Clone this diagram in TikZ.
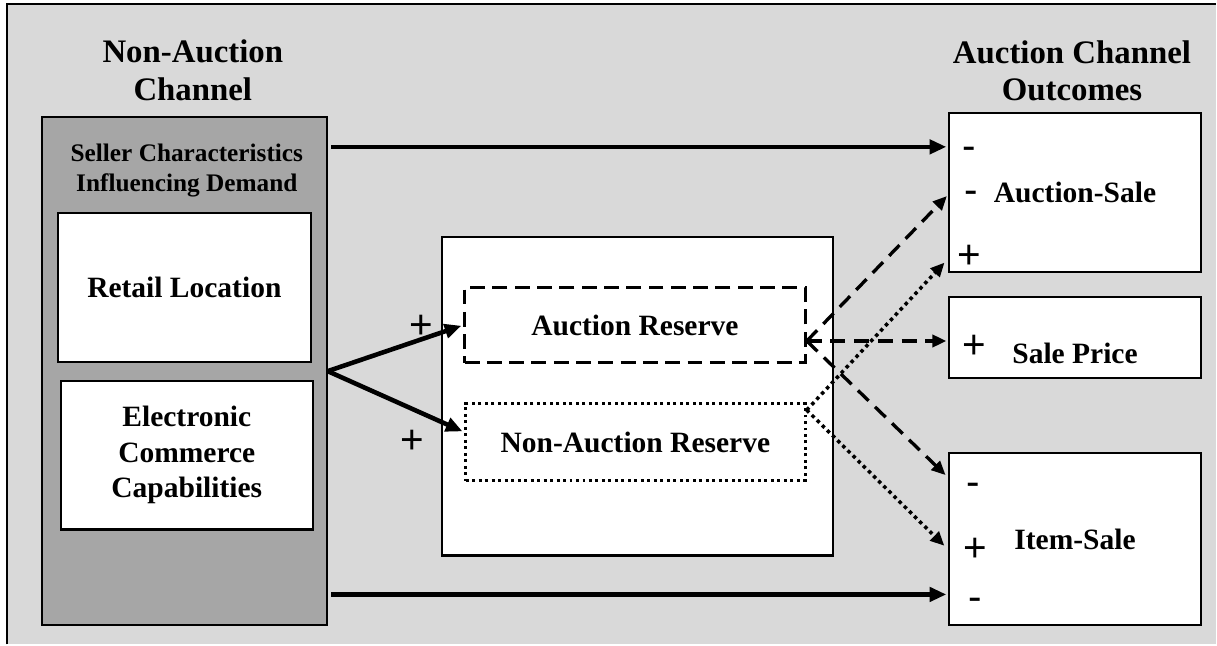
\documentclass[tikz,border=0pt]{standalone}
\usepackage{fontspec}
\setmainfont{Liberation Serif}
\newfontfamily\signfont{Liberation Sans}
\usepackage{xcolor}
\usepackage{tikz}
\usetikzlibrary{positioning,calc,arrows.meta}
\definecolor{backgray}{HTML}{D9D9D9}
\definecolor{panelgray}{HTML}{A6A6A6}

\begin{document}
\begin{tikzpicture}[x=0.02cm, y=-0.02cm, whitebox/.style={draw=black, fill=white, line width=1.2pt, inner sep=0pt, align=center, font=\fontsize{16.8}{20.4}\selectfont\bfseries}, heading/.style={inner sep=0pt, align=center, font=\fontsize{18.7}{21.5}\selectfont\bfseries}, sign/.style={inner sep=0pt, font=\fontsize{23}{25}\signfont}, dashbox/.style={line width=1.8pt, dash pattern=on 8.5pt off 4.2pt}, dotbox/.style={line width=1.7pt, dash pattern=on 1.7pt off 2pt}, solidarrow/.style={-{Triangle[length=9.5pt,width=8pt]}, line width=2.6pt}, dasharrow/.style={-{Triangle[length=8pt,width=7pt]}, line width=1.9pt, dash pattern=on 8.5pt off 5pt}, dotarrow/.style={-{Triangle[length=8pt,width=7pt]}, line width=2pt, dash pattern=on 2pt off 2.1pt}]
\fill[white] (0,0) rectangle (1217,645);
\fill[backgray] (7,4) rectangle (1217,645);
\draw[line width=1.3pt] (7,645) -- (7,4) -- (1217,4);
\useasboundingbox (0,0) rectangle (1217,645);
% channel headings
\node[heading] (lefttitle) at (193,70.5) {Non-Auction\\Channel};
\node[heading] (righttitle) at (1073,71) {Auction Channel\\Outcomes};
% non-auction channel
\node[draw=black, fill=panelgray, line width=1.2pt, inner sep=0pt, minimum width=5.7cm, minimum height=10.18cm] (chan) at (184.5,371.5) {};
\node[inner sep=0pt, align=center, font=\fontsize{14.4}{17.2}\selectfont\bfseries] (sellers) at (187,171) {Seller Characteristics\\Influencing Demand};
\node[whitebox, minimum width=5.06cm, minimum height=2.98cm] (retail) at (184.5,288) {Retail Location};
\node[whitebox, minimum width=5.04cm, minimum height=2.98cm] (ecom) at (187,455.5) {Electronic\\Commerce\\Capabilities};
% reserves
\node[whitebox, minimum width=7.84cm, minimum height=6.38cm] (resv) at (638,396.5) {};
\node[whitebox, dashbox, minimum width=6.82cm, minimum height=1.5cm] (ares) at (635.5,325.5) {Auction Reserve};
\node[whitebox, dotbox, minimum width=6.8cm, minimum height=1.54cm] (nres) at (636,442.5) {Non-Auction Reserve};
% outcomes
\node[whitebox, minimum width=5.04cm, minimum height=3.18cm] (asale) at (1076,192.5) {Auction-Sale};
\node[whitebox, minimum width=5.04cm, minimum height=1.62cm] (price) at (1076,337.5) {\raisebox{-9pt}[\height][\depth]{Sale Price}};
\node[whitebox, minimum width=5.04cm, minimum height=3.46cm] (isale) at (1076,539.5) {Item-Sale};
% signs
\node[sign] (as1) at (970,153) {-};
\node[sign] (as2) at (972,198) {-};
\node[sign] (as3) at (970,257) {+};
\node[sign] (sp1) at (975,347) {+};
\node[sign] (is1) at (974,490) {-};
\node[sign] (is2) at (976,550) {+};
\node[sign] (is3) at (976,605) {-};
\node[sign] (fp1) at (422,327) {+};
\node[sign] (fp2) at (413,442) {+};
\coordinate (aout) at ([yshift=-9pt]ares.east);
\coordinate (nout) at ([yshift=-4.5pt]nres.north east);
% effects
\draw[solidarrow, shorten <=2pt, shorten >=1pt] ($(chan.east |- as1)+(0,-6)$) -- ($(asale.west |- as1)+(0,-6)$);
\draw[solidarrow, shorten <=2pt, shorten >=1pt] ($(chan.east |- is3)+(0,-10)$) -- ($(isale.west |- is3)+(0,-10)$);
\draw[solidarrow, shorten >=1pt] (chan.east) -- (ares.west);
\draw[solidarrow, shorten >=1pt] (chan.east) -- ([yshift=5.7pt]nres.west);
\draw[dasharrow, shorten >=1pt] (aout) -- ($(asale.west |- as2)+(0,-3)$);
\draw[dasharrow, shorten >=1pt] (aout) -- (price.west |- aout);
\draw[dasharrow, shorten >=2pt] (aout) -- ($(isale.north west)+(0,26)$);
\draw[dotarrow, shorten >=3pt] (nout) -- ($(asale.west |- as3)+(0,2)$);
\draw[dotarrow, shorten >=3pt] (nout) -- (isale.west |- is2);
\end{tikzpicture}
\end{document}
